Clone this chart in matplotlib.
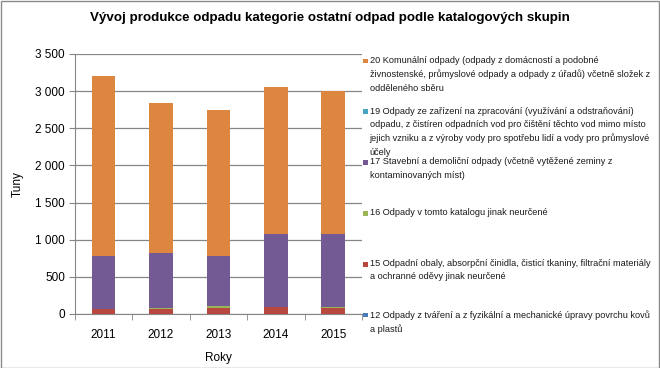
import matplotlib
matplotlib.use("Agg")
import matplotlib.pyplot as plt
from matplotlib.patches import Rectangle
from matplotlib.ticker import FuncFormatter, FixedLocator
import numpy as np

plt.rcParams['font.family'] = ['Liberation Sans', 'DejaVu Sans']

roky = ['2011', '2012', '2013', '2014', '2015']
# tuny podle katalogovych skupin
sk12 = [1, 1, 1, 1, 1]
sk15 = [60, 65, 82, 88, 74]
sk16 = [12, 10, 25, 8, 22]
sk17 = [702, 742, 667, 975, 975]
sk19 = [1, 1, 1, 1, 1]
sk20 = [2430, 2027, 1970, 1983, 1929]

popisky = {
    '12': "12 Odpady z tváření a z fyzikální a mechanické úpravy povrchu kovů\na plastů",
    '15': "15 Odpadní obaly, absorpční činidla, čisticí tkaniny, filtrační materiály\na ochranné oděvy jinak neurčené",
    '16': "16 Odpady v tomto katalogu jinak neurčené",
    '17': "17 Stavební a demoliční odpady (včetně vytěžené zeminy z\nkontaminovaných míst)",
    '19': "19 Odpady ze zařízení na zpracování (využívání a odstraňování)\nodpadu, z čistíren odpadních vod pro čištění těchto vod mimo místo\njejich vzniku a z výroby vody pro spotřebu lidí a vody pro průmyslové\núčely",
    '20': "20 Komunální odpady (odpady z domácností a podobné\nživnostenské, průmyslové odpady a odpady z úřadů) včetně složek z\nodděleného sběru",
}
barvy = {'12': '#4a7cb5', '15': '#b8473f', '16': '#98b558', '17': '#735a94',
         '19': '#47a5bf', '20': '#dc8640'}

W, H = 660, 368
fig = plt.figure(figsize=(W / 100, H / 100), dpi=100)
fig.add_artist(Rectangle((0.5 / W, 0.5 / H), 1 - 1.5 / W, 1 - 1.5 / H,
                         transform=fig.transFigure, fill=False,
                         ec='#8a8a8a', lw=1))

ax = fig.add_axes([74.7 / W, (H - 314) / H, (362 - 74.7) / W, (314 - 54) / H])
x = np.arange(len(roky))
serie = [('12', sk12), ('15', sk15), ('16', sk16), ('17', sk17), ('19', sk19), ('20', sk20)]
dno = np.zeros(len(roky))
for k, v in serie:
    ax.bar(x, v, 0.41, bottom=dno, color=barvy[k], linewidth=0, zorder=3)
    dno += np.array(v)

ax.set_xlim(-0.5, len(roky) - 0.5)
ax.set_ylim(0, 3500)
ax.set_yticks(np.arange(0, 3501, 500))
ax.yaxis.set_major_formatter(FuncFormatter(lambda v, p: f"{v:,.0f}".replace(",", " ")))
ax.set_xticks(x)
ax.set_xticklabels(roky)
ax.xaxis.set_minor_locator(FixedLocator(np.arange(-0.5, len(roky), 1)))
ax.tick_params(axis='x', which='major', length=0, pad=11, labelsize=8.5)
ax.tick_params(axis='x', which='minor', length=4, color='#868686', direction='out')
ax.tick_params(axis='y', length=4, color='#868686', direction='out', labelsize=8.5, pad=3)
ax.grid(axis='y', color='#868686', lw=0.9, zorder=0)
for s in ['top', 'right']:
    ax.spines[s].set_visible(False)
for s in ['left', 'bottom']:
    ax.spines[s].set_color('#868686')
ax.set_ylabel('Tuny', fontsize=8.5, labelpad=8)
ax.set_xlabel('Roky', fontsize=8.5, labelpad=8)

fig.text(0.5 * (10 + 650) / W, 1 - 18 / H,
         'Vývoj produkce odpadu kategorie ostatní odpad podle katalogových skupin',
         ha='center', va='center', fontsize=9.6, fontweight='bold')

# legenda - rucne, shora 20 az 12, znacka u prvniho radku
poradi = ['20', '19', '17', '16', '15', '12']
for i, k in enumerate(poradi):
    yc = 61 + i * 50.8
    fig.add_artist(Rectangle((363 / W, 1 - (yc + 2.3) / H), 4.6 / W, 4.6 / H,
                             transform=fig.transFigure, fc=barvy[k], ec='none'))
    fig.text(369.5 / W, 1 - (yc - 5.2) / H, popisky[k], ha='left', va='top',
             fontsize=6.6, linespacing=1.62, color='#1a1a1a')

fig.savefig('out.png', dpi=100, facecolor='white')
